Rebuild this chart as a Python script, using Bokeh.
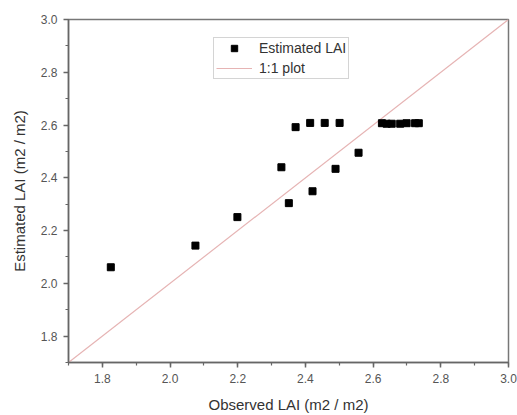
from bokeh.plotting import figure
from bokeh.models import Range1d, SingleIntervalTicker, NumeralTickFormatter, Legend, LegendItem
from bokeh.embed import file_html
from bokeh.resources import INLINE

# Data
observed = [1.825, 2.075, 2.199, 2.329, 2.351, 2.371, 2.414, 2.421, 2.457, 2.489,
            2.501, 2.557, 2.626, 2.64, 2.655, 2.68, 2.699, 2.724, 2.735]
estimated = [2.061, 2.143, 2.251, 2.440, 2.304, 2.592, 2.608, 2.349, 2.608, 2.434,
             2.608, 2.495, 2.607, 2.605, 2.605, 2.605, 2.607, 2.607, 2.607]
diag = [1.7, 3.0]
x_label = "Observed LAI (m2 / m2)"
y_label = "Estimated LAI (m2 / m2)"
series_names = ["Estimated LAI", "1:1 plot"]

FONT = "Liberation Sans"

p = figure(width=517, height=415, output_backend="svg", toolbar_location=None,
           x_range=Range1d(1.7, 3.0), y_range=Range1d(1.7, 3.0))
p.min_border_left = 68
p.min_border_right = 9
p.min_border_top = 19
p.min_border_bottom = 53
p.background_fill_color = "white"
p.border_fill_color = "white"
p.outline_line_color = "#777777"
p.outline_line_width = 1.5
p.grid.visible = False

for ax in (p.xaxis[0], p.yaxis[0]):
    ax.ticker = SingleIntervalTicker(interval=0.2, num_minor_ticks=2)
    ax.formatter = NumeralTickFormatter(format="0.0")
    ax.axis_line_color = "#666666"
    ax.axis_line_width = 1.5
    ax.major_tick_line_color = "#666666"
    ax.minor_tick_line_color = "#666666"
    ax.major_tick_line_width = 1.5
    ax.minor_tick_line_width = 1.2
    ax.major_tick_out = 5
    ax.major_tick_in = 0
    ax.minor_tick_out = 3
    ax.minor_tick_in = 0
    ax.major_label_text_font = FONT
    ax.major_label_text_font_size = "12px"
    ax.major_label_text_color = "#555555"
    ax.major_label_standoff = 6
    ax.axis_label_text_font = FONT
    ax.axis_label_text_font_size = "15px"
    ax.axis_label_text_font_style = "normal"
    ax.axis_label_text_color = "#333333"
    ax.axis_label_standoff = 10

p.xaxis.axis_label = x_label
p.yaxis.axis_label = y_label

line_r = p.line(diag, diag, line_color="#e6b4b4", line_width=1.2)
# smaller marker used only as the legend swatch (hidden beneath the plotted squares)
legend_pts = p.scatter(observed, estimated, marker="square", size=5,
                       fill_color="black", line_color="black")
pts_r = p.scatter(observed, estimated, marker="square", size=7,
                  fill_color="black", line_color="black")

legend = Legend(items=[LegendItem(label=series_names[0], renderers=[legend_pts]),
                       LegendItem(label=series_names[1], renderers=[line_r])],
                location=(145, 283))
legend.label_text_font = FONT
legend.label_text_font_size = "14px"
legend.label_text_color = "#333333"
legend.glyph_width = 36
legend.glyph_height = 16
legend.label_height = 16
legend.label_standoff = 7
legend.spacing = 4
legend.padding = 2
legend.margin = 0
legend.border_line_color = "#aaaaaa"
legend.border_line_width = 1
legend.background_fill_alpha = 1.0
p.add_layout(legend, "center")

open("out.html", "w").write(file_html(p, INLINE))
